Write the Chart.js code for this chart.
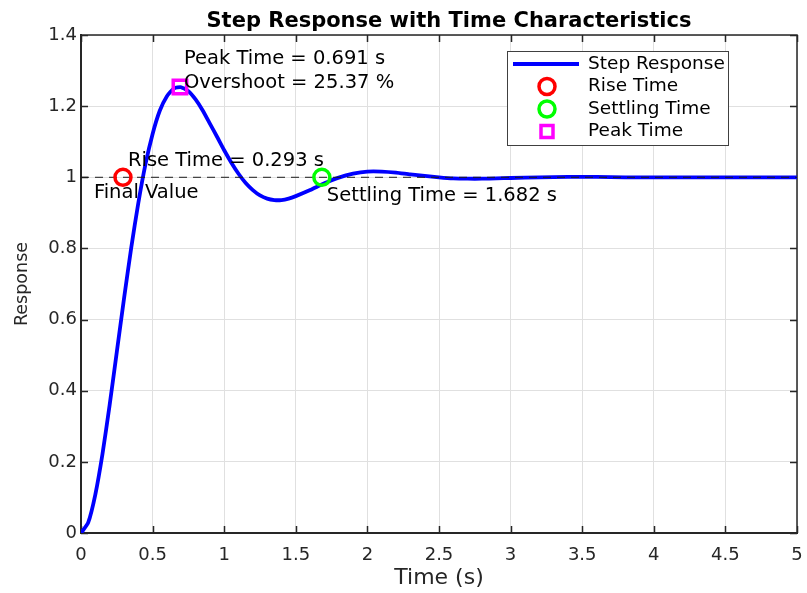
<!DOCTYPE html>
<html>
<head>
<meta charset="utf-8">
<title>Step Response</title>
<script src="https://cdn.jsdelivr.net/npm/chart.js@4.4.0/dist/chart.umd.min.js"></script>
<style>
html, body { margin: 0; padding: 0; background: #fff; }
#wrap { width: 807px; height: 593px; }
</style>
</head>
<body>
<div id="wrap"><canvas id="stepChart" width="807" height="593"></canvas></div>
<script>
// step response samples (time in s)
var timeS = [0, 0.05, 0.10, 0.15, 0.20, 0.25, 0.30, 0.35, 0.40, 0.45, 0.50, 0.55, 0.60, 0.65, 0.70,
             0.75, 0.80, 0.85, 0.90, 0.95, 1.00, 1.05, 1.10, 1.15, 1.20, 1.25, 1.30, 1.35, 1.40, 1.45,
             1.50, 1.60, 1.70, 1.80, 1.90, 2.00, 2.10, 2.20, 2.30, 2.40, 2.50, 2.60, 2.70, 2.80, 2.90,
             3.00, 3.20, 3.40, 3.60, 3.80, 4.00, 4.50, 5.00];
var response = [0, 0.029, 0.108, 0.222, 0.360, 0.509, 0.658, 0.800, 0.927, 1.036, 1.122, 1.187, 1.228, 1.250, 1.253,
                1.242, 1.219, 1.188, 1.151, 1.114, 1.076, 1.041, 1.010, 0.984, 0.964, 0.949, 0.940, 0.936, 0.936, 0.940,
                0.947, 0.964, 0.983, 0.999, 1.010, 1.016, 1.016, 1.013, 1.008, 1.004, 1.000, 0.997, 0.996, 0.996, 0.997,
                0.998, 1.000, 1.001, 1.001, 1.000, 1.000, 1.000, 1.000];

// characteristics
var finalValue = 1;
var riseTime = 0.293;
var settlingTime = 1.682;
var peakTime = 0.691;
var peakValue = 1.2537;
var overshootPct = 25.37;

// axis ticks
var xTicks = [0, 0.5, 1, 1.5, 2, 2.5, 3, 3.5, 4, 4.5, 5];
var yTicks = [0, 0.2, 0.4, 0.6, 0.8, 1, 1.2, 1.4];

var FONT = '"DejaVu Sans", "Liberation Sans", Arial, sans-serif';
var AXIS = '#262626';
var TITLE = 'Step Response with Time Characteristics';

function pts(xs, ys){
    var out = [];
    for(var i = 0; i < xs.length; i++){
        out.push({x: xs[i], y: ys[i]});
    }
    return out;
}

function tickText(v){
    return String(Math.round(v * 10) / 10);
}

// box, inward ticks, title, annotations and legend
var decorations = {
    id: 'decorations',
    beforeDatasetsDraw: function(chart){
        var ctx = chart.ctx, a = chart.chartArea;
        var xs = chart.scales.x, ys = chart.scales.y;
        ctx.save();
        ctx.strokeStyle = AXIS;
        ctx.lineWidth = 1.5;
        ctx.beginPath();
        ctx.moveTo(a.left, a.top); ctx.lineTo(a.right, a.top); ctx.lineTo(a.right, a.bottom);
        // inward tick marks on all four sides
        xTicks.forEach(function(v){
            var px = Math.round(xs.getPixelForValue(v)) + 0.5;
            ctx.moveTo(px, a.bottom); ctx.lineTo(px, a.bottom - 7);
            ctx.moveTo(px, a.top); ctx.lineTo(px, a.top + 7);
        });
        yTicks.forEach(function(v){
            var py = Math.round(ys.getPixelForValue(v)) + 0.5;
            ctx.moveTo(a.left, py); ctx.lineTo(a.left + 7, py);
            ctx.moveTo(a.right, py); ctx.lineTo(a.right - 7, py);
        });
        ctx.stroke();

        // title centred over the plot box
        ctx.fillStyle = '#000';
        ctx.font = 'bold 21px ' + FONT;
        ctx.textAlign = 'center';
        ctx.textBaseline = 'alphabetic';
        ctx.fillText(TITLE, 449, 27);
        ctx.restore();
    },
    afterDatasetsDraw: function(chart){
        var ctx = chart.ctx;
        var xs = chart.scales.x, ys = chart.scales.y;
        ctx.save();
        ctx.fillStyle = '#000';
        ctx.font = '19.5px ' + FONT;
        ctx.textAlign = 'left';
        ctx.textBaseline = 'alphabetic';

        var rx = xs.getPixelForValue(riseTime), fy = ys.getPixelForValue(finalValue);
        ctx.fillText('Rise Time = ' + riseTime.toFixed(3) + ' s', rx + 5, fy - 11);
        ctx.fillText('Final Value', xs.getPixelForValue(0.09), fy + 21);

        var sx = xs.getPixelForValue(settlingTime);
        ctx.fillText('Settling Time = ' + settlingTime.toFixed(3) + ' s', sx + 5, fy + 24);

        var px = xs.getPixelForValue(peakTime), py = ys.getPixelForValue(peakValue);
        ctx.fillText('Peak Time = ' + peakTime.toFixed(3) + ' s', px + 4, py - 23);
        ctx.fillText('Overshoot = ' + overshootPct.toFixed(2) + ' %', px + 4, py + 1);

        // legend
        var lx = 507, ly = 51, lw = 221, lh = 94;
        ctx.fillStyle = '#fff';
        ctx.fillRect(lx, ly, lw, lh);
        ctx.strokeStyle = '#404040';
        ctx.lineWidth = 1;
        ctx.strokeRect(lx + 0.5, ly + 0.5, lw, lh);

        var rows = [
            {label: 'Step Response', kind: 'line', color: '#0000ff'},
            {label: 'Rise Time', kind: 'circle', color: '#ff0000'},
            {label: 'Settling Time', kind: 'circle', color: '#00ff00'},
            {label: 'Peak Time', kind: 'square', color: '#ff00ff'}
        ];
        ctx.font = '18.5px ' + FONT;
        ctx.textBaseline = 'middle';
        rows.forEach(function(r, i){
            var cy = ly + 13 + i * 22.5;
            ctx.strokeStyle = r.color;
            if(r.kind === 'line'){
                ctx.lineWidth = 4;
                ctx.beginPath(); ctx.moveTo(lx + 6, cy); ctx.lineTo(lx + 72, cy); ctx.stroke();
            } else if(r.kind === 'circle'){
                ctx.lineWidth = 3.5;
                ctx.beginPath(); ctx.arc(lx + 40, cy, 8, 0, Math.PI * 2); ctx.stroke();
            } else {
                ctx.lineWidth = 3.5;
                ctx.strokeRect(lx + 34, cy - 6, 12, 12);
            }
            ctx.fillStyle = '#000';
            ctx.fillText(r.label, lx + 81, cy);
        });
        ctx.restore();
    }
};

var ctx = document.getElementById('stepChart');
var chart = new Chart(ctx, {
    type: 'line',
    data: {
        datasets: [
            {   // markers first so they sit on top of the curve
                label: 'Peak Time', data: [{x: peakTime, y: peakValue}],
                showLine: false, pointStyle: 'rect', pointRadius: 9.5,
                borderColor: '#ff00ff', backgroundColor: 'rgba(0,0,0,0)', pointBorderWidth: 3.5
            },
            {
                label: 'Settling Time', data: [{x: settlingTime, y: finalValue}],
                showLine: false, pointStyle: 'circle', pointRadius: 8,
                borderColor: '#00ff00', backgroundColor: 'rgba(0,0,0,0)', pointBorderWidth: 3.5
            },
            {
                label: 'Rise Time', data: [{x: riseTime, y: finalValue}],
                showLine: false, pointStyle: 'circle', pointRadius: 8,
                borderColor: '#ff0000', backgroundColor: 'rgba(0,0,0,0)', pointBorderWidth: 3.5
            },
            {
                label: 'Final Value', data: [{x: xTicks[0], y: finalValue}, {x: xTicks[xTicks.length - 1], y: finalValue}],
                borderColor: '#1a1a1a', borderWidth: 1, borderDash: [8, 6], pointRadius: 0
            },
            {
                label: 'Step Response', data: pts(timeS, response),
                borderColor: '#0000ff', borderWidth: 3.8, pointRadius: 0, tension: 0.2
            }
        ]
    },
    options: {
        responsive: false,
        animation: false,
        devicePixelRatio: 1,
        layout: {autoPadding: false, padding: {left: 0, right: 10, top: 35, bottom: 0}},
        plugins: {
            legend: {display: false},
            tooltip: {enabled: false},
            title: {display: false}
        },
        scales: {
            x: {
                type: 'linear', min: 0, max: 5,
                afterBuildTicks: function(s){ s.ticks = xTicks.map(function(v){ return {value: v}; }); },
                afterFit: function(s){ s.height = 60; s.paddingLeft = 0; s.paddingRight = 0; },
                grid: {color: '#e0e0e0', lineWidth: 1, drawTicks: false},
                border: {display: true, color: AXIS, width: 2},
                ticks: {color: AXIS, font: {family: FONT, size: 18}, padding: 12, maxRotation: 0, callback: tickText},
                title: {display: true, text: 'Time (s)', color: AXIS, font: {family: FONT, size: 22}, padding: {top: 0, bottom: 2}}
            },
            y: {
                type: 'linear', min: 0, max: 1.4,
                afterBuildTicks: function(s){ s.ticks = yTicks.map(function(v){ return {value: v}; }); },
                afterFit: function(s){ s.width = 81; },
                grid: {color: '#e0e0e0', lineWidth: 1, drawTicks: false},
                border: {display: true, color: AXIS, width: 2},
                ticks: {color: AXIS, font: {family: FONT, size: 18}, padding: 4, callback: tickText},
                title: {display: true, text: 'Response', color: AXIS, font: {family: FONT, size: 17.5}, padding: {top: 12, bottom: 0}}
            }
        }
    },
    plugins: [decorations]
});
</script>
</body>
</html>
